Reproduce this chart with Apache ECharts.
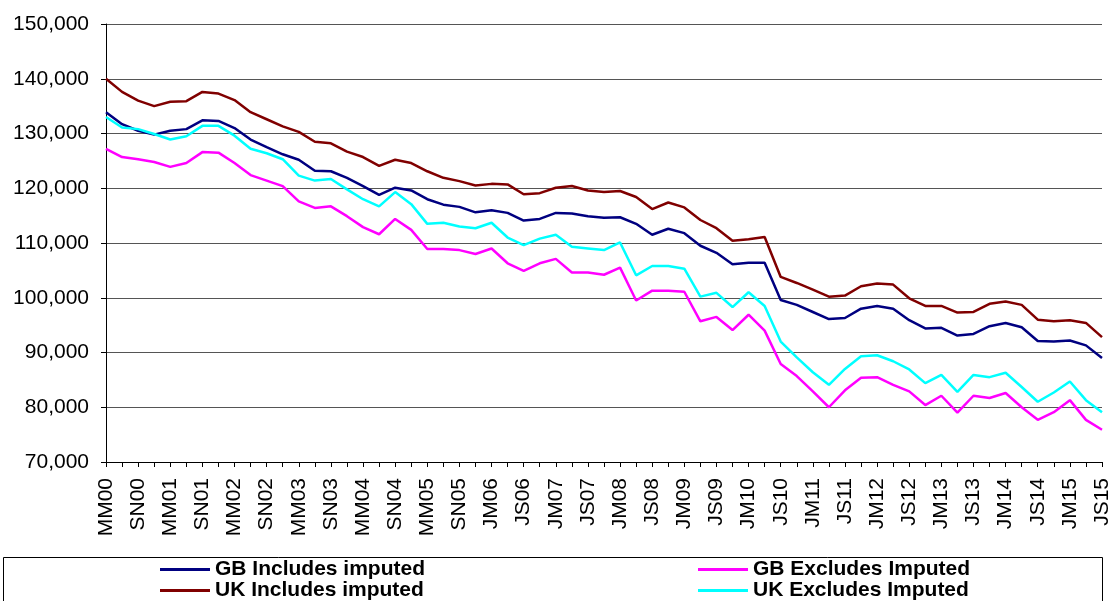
<!DOCTYPE html>
<html>
<head>
<meta charset="utf-8">
<script src="https://cdn.jsdelivr.net/npm/echarts@6/dist/echarts.min.js"></script>
<style>
  html, body { margin: 0; padding: 0; background: #fff; }
  #chart { width: 1114px; height: 601px; }
</style>
</head>
<body>
<div id="chart"></div>
<script>
// quarters: MM/JA/SN/DF up to 2005, then calendar quarters JM/AJ/JS/OD
const periods = [
  'MM00','JA00','SN00','DF00','MM01','JA01','SN01','DF01','MM02','JA02','SN02','DF02',
  'MM03','JA03','SN03','DF03','MM04','JA04','SN04','DF04','MM05','JA05','SN05','DF05',
  'JM06','AJ06','JS06','OD06','JM07','AJ07','JS07','OD07','JM08','AJ08','JS08','OD08',
  'JM09','AJ09','JS09','OD09','JM10','AJ10','JS10','OD10','JM11','AJ11','JS11','OD11',
  'JM12','AJ12','JS12','OD12','JM13','AJ13','JS13','OD13','JM14','AJ14','JS14','OD14',
  'JM15','AJ15','JS15'
];

const gbIncludes = [
  133900,131700,130500,129800,130500,130800,132400,132300,131000,128900,127500,126200,
  125200,123200,123100,121900,120400,118800,120100,119600,118000,117000,116600,115600,
  116000,115500,114100,114400,115500,115400,114900,114600,114700,113500,111500,112600,
  111800,109500,108200,106100,106400,106400,99600,98700,97400,96100,96300,98000,
  98500,98000,95900,94400,94500,93100,93400,94800,95400,94600,92100,92000,
  92200,91300,89000
];
const gbExcludes = [
  127200,125700,125300,124800,123900,124600,126600,126500,124600,122400,121400,120400,
  117600,116400,116700,114900,112900,111600,114400,112400,108900,108900,108700,108000,
  109000,106300,104900,106300,107100,104600,104600,104200,105500,99500,101300,101300,
  101100,95700,96500,94100,96900,94000,87900,85700,82900,80000,83100,85400,
  85500,84100,82900,80400,82100,79000,82100,81700,82600,80000,77700,79100,
  81300,77700,75900
];
const ukIncludes = [
  140000,137600,136000,135000,135800,135900,137600,137300,136100,133900,132600,131300,
  130300,128500,128200,126700,125700,124100,125200,124600,123100,121900,121300,120500,
  120800,120700,118900,119100,120100,120400,119600,119300,119500,118400,116200,117400,
  116500,114200,112700,110400,110700,111100,103800,102700,101500,100200,100400,102100,
  102600,102400,99900,98500,98500,97300,97400,98900,99300,98700,96000,95700,
  95900,95400,92800
];
const ukExcludes = [
  133000,131100,130800,129900,128900,129500,131400,131400,129600,127200,126400,125300,
  122300,121400,121700,119800,118000,116700,119300,117100,113500,113700,113000,112700,
  113700,111000,109600,110800,111500,109300,109000,108700,110100,104100,105800,105800,
  105300,100200,100900,98300,101000,98500,92000,89100,86400,84100,87000,89300,
  89500,88400,86900,84400,85900,82800,85900,85500,86300,83700,81000,82700,
  84700,81300,79100
];

const seriesNames = ['GB Includes imputed','GB Excludes Imputed','UK Includes imputed','UK Excludes Imputed'];
const seriesColors = ['#000080','#ff00ff','#800000','#00ffff'];
const seriesData = [gbIncludes, gbExcludes, ukIncludes, ukExcludes];
// legend slot for each series: [left, top]
const legendSpots = [[160, 559], [698, 559], [160, 580], [698, 580]];

const font = 'Arial, "Liberation Sans", sans-serif';
const chart = echarts.init(document.getElementById('chart'));

chart.setOption({
  animation: false,
  backgroundColor: '#fff',
  grid: { left: 106, right: 12, top: 24, bottom: 139 },
  legend: seriesNames.map((name, k) => ({
    data: [name],
    left: legendSpots[k][0],
    top: legendSpots[k][1],
    padding: 0,
    icon: 'rect',
    itemWidth: 50,
    itemHeight: 3,
    textStyle: { fontFamily: font, fontSize: 21, fontWeight: 'bold', color: '#000', lineHeight: 21 }
  })),
  graphic: [{
    type: 'rect',
    shape: { x: 3.5, y: 557.5, width: 1099, height: 60 },
    style: { fill: 'none', stroke: '#000', lineWidth: 1 },
    silent: true
  }],
  xAxis: {
    type: 'category',
    data: periods,
    boundaryGap: false,
    axisLine: { lineStyle: { color: '#000', width: 1 } },
    axisTick: { show: true, interval: 0, length: 5, lineStyle: { color: '#000' } },
    axisLabel: {
      interval: 1,
      rotate: 90,
      margin: 16,
      fontFamily: font,
      fontSize: 21,
      color: '#000'
    },
    splitLine: { show: false }
  },
  yAxis: {
    type: 'value',
    min: 70000,
    max: 150000,
    interval: 10000,
    axisLine: { show: true, lineStyle: { color: '#000', width: 1 } },
    axisTick: { show: true, length: 5, lineStyle: { color: '#000' } },
    axisLabel: {
      margin: 17,
      fontFamily: font,
      fontSize: 21,
      color: '#000',
      formatter: v => v.toLocaleString('en-GB')
    },
    splitLine: { show: true, lineStyle: { color: '#555', width: 1 } }
  },
  series: seriesNames.map((name, k) => ({
    name: name,
    type: 'line',
    data: seriesData[k],
    symbol: 'none',
    color: seriesColors[k],
    lineStyle: { width: 2.5, color: seriesColors[k] }
  }))
});
</script>
</body>
</html>
